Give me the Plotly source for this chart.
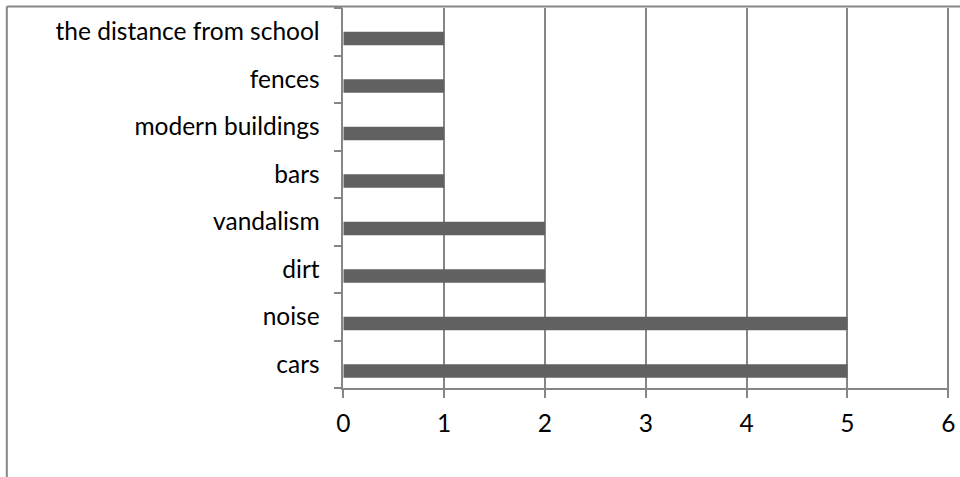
import plotly.graph_objects as go

# Category labels, bottom to top as they appear on the axis
categories = ["cars", "noise", "dirt", "vandalism", "bars",
              "modern buildings", "fences", "the distance from school"]
counts = [5, 5, 2, 2, 1, 1, 1, 1]
x_ticks = [0, 1, 2, 3, 4, 5, 6]

W, H = 960, 477
GRAY = "#868686"
FONT = dict(family="Lato", size=24.5, color="#000000")

# value axis: 0..6 spread over x = 343.3 .. 948.3 px
X0_PX, X6_PX = 343.3, 948.3
X_MAX = 6.01  # a hair past 6 so the last gridline is drawn
x_end_px = X0_PX + (X6_PX - X0_PX) * X_MAX / 6

fig = go.Figure()
fig.add_trace(go.Bar(
    x=counts,
    y=categories,
    orientation="h",
    marker=dict(color="#616161", line=dict(width=0)),
    width=0.286,
    offset=-0.286,
    hoverinfo="x+y",
))

FRAME_X = 6.8 / W
FRAME_Y = (H - 6.5) / H

fig.update_layout(
    width=W, height=H,
    margin=dict(l=0, r=0, t=0, b=0, autoexpand=False),
    paper_bgcolor="white",
    plot_bgcolor="white",
    showlegend=False,
    font=FONT,
    xaxis=dict(
        domain=[X0_PX / W, x_end_px / W],
        range=[0, X_MAX],
        automargin=False,
        tickmode="array",
        tickvals=x_ticks,
        ticktext=[str(v) for v in x_ticks],
        showgrid=True, gridcolor=GRAY, gridwidth=1.5,
        zeroline=False,
        showline=True, linecolor=GRAY, linewidth=1.5,
        ticks="outside", ticklen=8, tickcolor=GRAY, tickwidth=1.5,
        ticklabelstandoff=5,
        tickfont=FONT,
        fixedrange=True,
    ),
    yaxis=dict(
        domain=[(H - 388) / H, (H - 8) / H],
        type="category",
        categoryorder="array",
        categoryarray=categories,
        range=[-0.5, len(categories) - 0.5],
        automargin=False,
        tickson="boundaries",
        showgrid=False,
        zeroline=False,
        showline=True, linecolor=GRAY, linewidth=1.5,
        ticks="outside", ticklen=8, tickcolor=GRAY, tickwidth=1.5,
        ticklabelstandoff=17,
        tickfont=FONT,
        fixedrange=True,
    ),
    shapes=[
        # outer chart frame: left edge
        dict(type="line", xref="paper", yref="paper",
             x0=FRAME_X, x1=FRAME_X, y0=0, y1=FRAME_Y,
             line=dict(color=GRAY, width=2), layer="above"),
        # outer chart frame: top edge
        dict(type="line", xref="paper", yref="paper",
             x0=FRAME_X, x1=1, y0=FRAME_Y, y1=FRAME_Y,
             line=dict(color=GRAY, width=2), layer="above"),
    ],
)

fig.write_html("out.html")
